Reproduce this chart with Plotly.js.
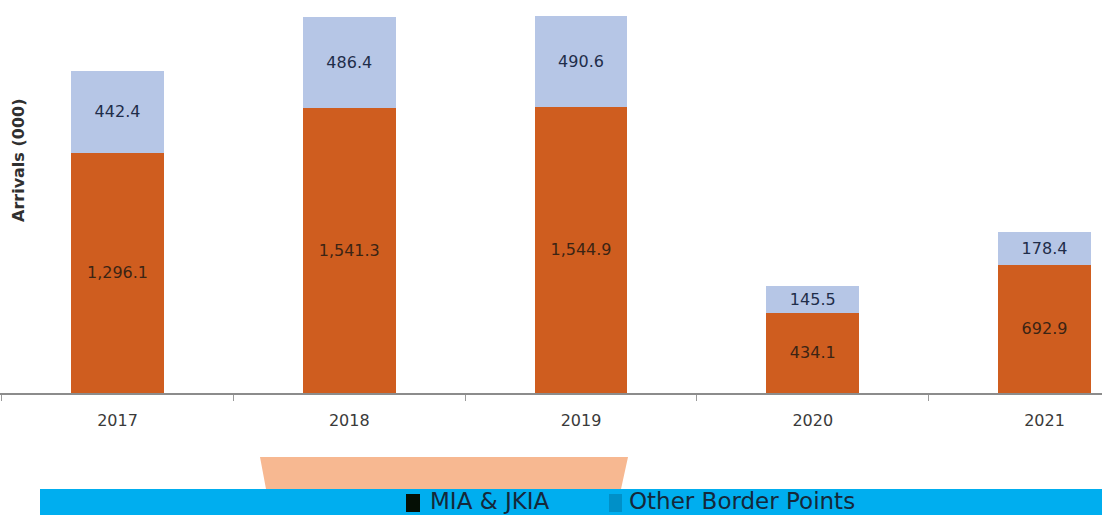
<!DOCTYPE html>
<html>
<head>
<meta charset="utf-8">
<script src="https://cdn.plot.ly/plotly-3.0.1.min.js"></script>
<style>
  html, body { margin: 0; padding: 0; background: #ffffff; }
  #chart { width: 1102px; height: 515px; }
</style>
</head>
<body>
<div id="chart"></div>
<script>
// ---- Data ----
const years = ['2017', '2018', '2019', '2020', '2021'];
const miaJkia = [1296.1, 1541.3, 1544.9, 434.1, 692.9];
const otherBorderPoints = [442.4, 486.4, 490.6, 145.5, 178.4];
const seriesNames = ['MIA & JKIA', 'Other Border Points'];
const yAxisTitle = 'Arrivals (000)';

// ---- Geometry helpers (pixel -> paper) ----
const W = 1102, H = 515;
const M = { l: 0, r: 0, t: 0, b: 122 };
const PW = W - M.l - M.r, PH = H - M.t - M.b;
const px = x => (x - M.l) / PW;
const py = y => (M.t + PH - y) / PH;

const orange = '#CF5D1F';
const lightBlue = '#B6C6E6';

const traces = [
  {
    type: 'bar', name: seriesNames[0], x: years, y: miaJkia,
    marker: { color: orange },
    texttemplate: '%{y:,.1f}', textposition: 'inside', insidetextanchor: 'middle',
    textangle: 0, constraintext: 'none',
    textfont: { family: 'DejaVu Sans', size: 16, color: '#3b2414' },
    hoverinfo: 'x+y+name'
  },
  {
    type: 'bar', name: seriesNames[1], x: years, y: otherBorderPoints,
    marker: { color: lightBlue },
    texttemplate: '%{y:,.1f}', textposition: 'inside', insidetextanchor: 'middle',
    textangle: 0, constraintext: 'none',
    textfont: { family: 'DejaVu Sans', size: 16, color: '#1f2d4a' },
    hoverinfo: 'x+y+name'
  }
];

const layout = {
  width: W, height: H,
  margin: M,
  paper_bgcolor: '#ffffff', plot_bgcolor: '#ffffff',
  barmode: 'stack',
  bargap: 0.6,
  showlegend: false,
  font: { family: 'DejaVu Sans', color: '#404040' },
  xaxis: {
    type: 'category',
    range: [-0.507, 4.248],
    showline: true, linecolor: '#8c8c8c', linewidth: 1.5,
    ticks: 'outside', tickson: 'boundaries', ticklen: 6, tickcolor: '#9a9a9a',
    ticklabelstandoff: 12,
    tickfont: { family: 'DejaVu Sans', size: 16, color: '#3a3a3a' },
    showgrid: false, zeroline: false, fixedrange: true
  },
  yaxis: {
    range: [0, 2122],
    showticklabels: false, showgrid: false, zeroline: false, showline: false,
    ticks: '', fixedrange: true
  },
  shapes: [
    // decorative salmon block above legend band
    { type: 'path', xref: 'paper', yref: 'paper',
      path: `M ${px(260)} ${py(457)} L ${px(628)} ${py(457)} L ${px(621)} ${py(489)} L ${px(266)} ${py(489)} Z`,
      fillcolor: '#F7B891', line: { width: 0 }, layer: 'below' },
    // legend band
    { type: 'rect', xref: 'paper', yref: 'paper',
      x0: px(40), x1: px(1102), y0: py(515), y1: py(489),
      fillcolor: '#00AEEF', line: { width: 0 } },
    // legend swatches
    { type: 'rect', xref: 'paper', yref: 'paper',
      x0: px(406), x1: px(420), y0: py(512), y1: py(494),
      fillcolor: '#050f05', line: { width: 0 } },
    { type: 'rect', xref: 'paper', yref: 'paper',
      x0: px(609), x1: px(622), y0: py(512), y1: py(494),
      fillcolor: '#0090C8', line: { width: 0 } }
  ],
  annotations: [
    { text: yAxisTitle, xref: 'paper', yref: 'paper', x: px(18), y: py(161),
      xanchor: 'center', yanchor: 'middle', textangle: -90, showarrow: false,
      font: { family: 'DejaVu Sans', size: 16, color: '#303030', weight: 'bold' } },
    { text: seriesNames[0], xref: 'paper', yref: 'paper', x: px(428), y: py(501),
      xanchor: 'left', yanchor: 'middle', showarrow: false,
      font: { family: 'DejaVu Sans', size: 23, color: '#15283a' } },
    { text: seriesNames[1], xref: 'paper', yref: 'paper', x: px(627), y: py(501),
      xanchor: 'left', yanchor: 'middle', showarrow: false,
      font: { family: 'DejaVu Sans', size: 23, color: '#15283a' } }
  ]
};

Plotly.newPlot('chart', traces, layout, { displayModeBar: false, staticPlot: true });
</script>
</body>
</html>
